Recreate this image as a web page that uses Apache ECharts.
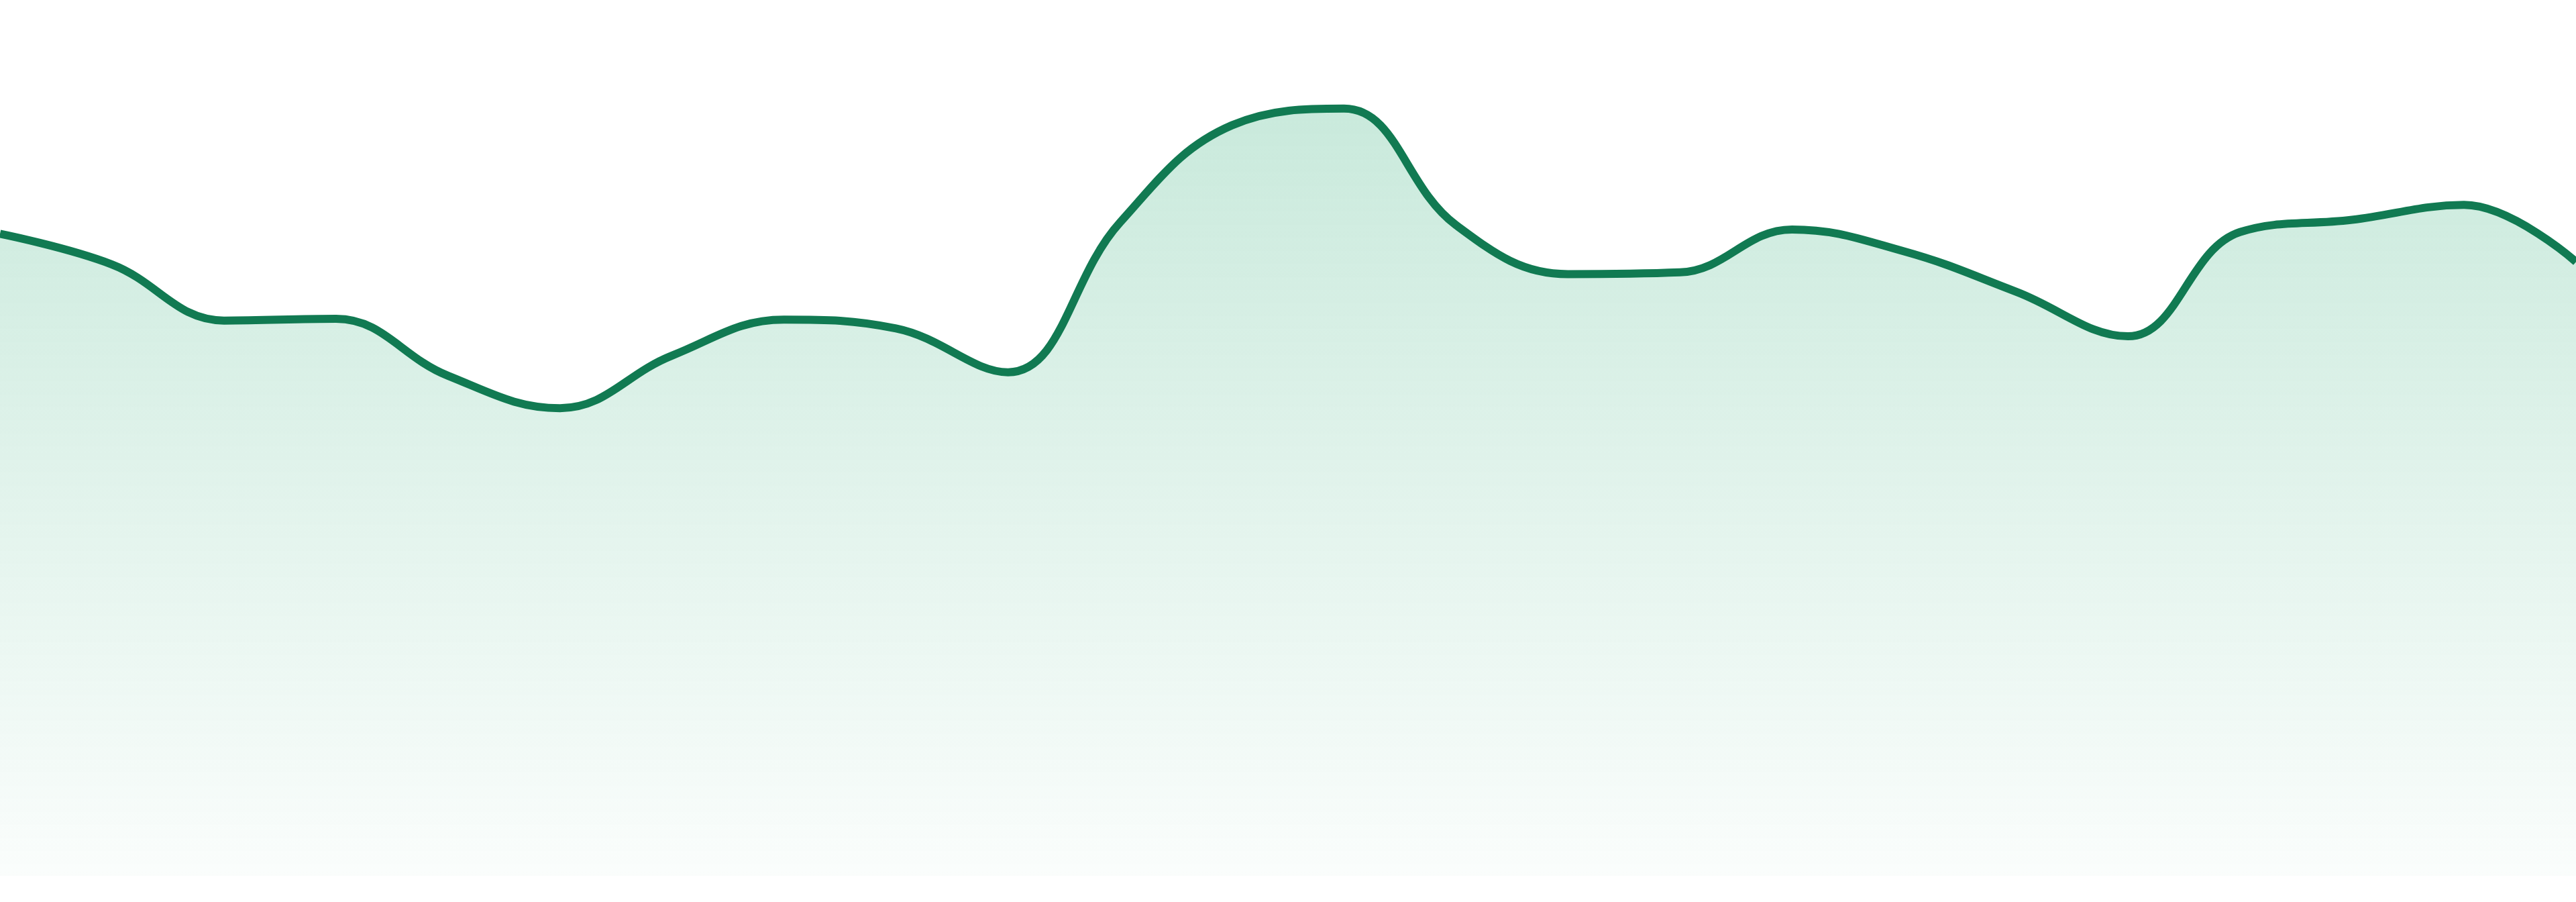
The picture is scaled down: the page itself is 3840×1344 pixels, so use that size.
<!DOCTYPE html>
<html>
<head>
<meta charset="utf-8">
<title>Area trend</title>
<script src="https://cdn.jsdelivr.net/npm/echarts@6/dist/echarts.min.js"></script>
<style>
  html, body { margin: 0; padding: 0; background: #ffffff; }
  #chart { width: 3840px; height: 1344px; }
</style>
</head>
<body>
<div id="chart"></div>
<script>
// one point per step
const categories = ['1', '2', '3', '4', '5', '6', '7', '8', '9', '10', '11', '12',
    '13', '14', '15', '16', '17', '18', '19', '20', '21', '22', '23', '24'];
const values = [73.3, 69.8, 63.4, 63.6, 57.1, 53.4, 59.4, 63.5, 62.5, 57.5, 74.6, 85.7,
    87.6, 74.3, 68.7, 68.9, 73.8, 71.3, 66.7, 61.6, 73.5, 74.9, 76.6, 70.1];
const yMin = 0;
const yMax = 100;

const chart = echarts.init(document.getElementById('chart'));

const options = {
    animation: false,
    grid: {
        left: 0,
        right: 0,
        top: 0,
        bottom: 39
    },
    xAxis: {
        type: 'category',
        boundaryGap: false,
        data: categories,
        show: false
    },
    yAxis: {
        type: 'value',
        min: yMin,
        max: yMax,
        show: false
    },
    series: [{
        type: 'line',
        data: values,
        smooth: 0.4,
        symbol: 'none',
        lineStyle: {
            color: '#117a52',
            width: 12
        },
        areaStyle: {
            color: new echarts.graphic.LinearGradient(0, 0, 0, 1, [
                { offset: 0, color: 'rgba(41, 170, 115, 0.36)' },
                { offset: 1, color: 'rgba(41, 170, 115, 0.03)' }
            ])
        }
    }]
};
chart.setOption(options);

window.onresize = function () {
    chart.resize();
};
</script>
</body>
</html>
